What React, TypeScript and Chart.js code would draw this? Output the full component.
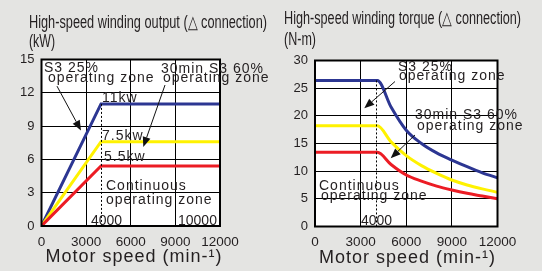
import React, { useEffect, useRef } from "react";
import { Chart, registerables } from "chart.js";
Chart.register(...registerables);

// ---------- data ----------
const speedOut = [0, 4000, 12000];
const outS3 = [0, 11, 11];
const out30 = [0, 7.6, 7.6];
const outCont = [0, 5.4, 5.4];

const speedTq = [0, 4100, 5000, 6000, 7000, 8000, 9000, 10000, 11000, 12000];
const tqS3 = [26.4, 26.4, 21.6, 17.4, 15.0, 13.3, 12.0, 10.8, 9.7, 8.8];
const tq30 = [18.2, 18.2, 15.3, 12.8, 11.0, 9.6, 8.4, 7.5, 6.8, 6.2];
const tqCont = [13.4, 13.4, 11.2, 9.3, 8.2, 7.3, 6.6, 6.0, 5.5, 5.0];

const xTickLabels = ["0", "3000", "6000", "9000", "12000"];
const outTickLabels = ["0", "3", "6", "9", "12", "15"];
const tqTickLabels = ["0", "5", "10", "15", "20", "25", "30"];

const dashSpeed = 4000;

const titleOut = "High-speed winding output (\u25B3 connection)";
const unitOut = "(kW)";
const titleTq = "High-speed winding torque (\u25B3 connection)";
const unitTq = "(N-m)";
const xTitle = "Motor speed (min-\u00B9)";

// annotation texts (anchored in data coordinates)
const notesOut = [
  { text: "S3 25%", x: 170, y: 13.9, sp: 1 },
  { text: "operating zone", x: 437, y: 12.97, sp: 1 },
  { text: "30min S3 60%", x: 8034, y: 13.8, sp: 1 },
  { text: "operating zone", x: 8168, y: 12.97, sp: 1 },
  { text: "11kw", x: 4067, y: 11.17, sp: 1 },
  { text: "7.5kw", x: 4067, y: 7.75, sp: 1 },
  { text: "5.5kw", x: 4202, y: 5.86, sp: 1 },
  { text: "Continuous", x: 4336, y: 3.24, sp: 1 },
  { text: "operating zone", x: 4336, y: 1.98, sp: 1 },
  { text: "4000", x: 3328, y: 0.09, sp: 0 },
  { text: "10000", x: 9177, y: 0.09, sp: 0 },
];
const arrowsOut = [
  { x0: 1042, y0: 12.6, x1: 2655, y1: 8.6 },
  { x0: 8303, y0: 12.7, x1: 6844, y1: 7.12 },
];
const notesTq = [
  { text: "S3 25%", x: 5457, y: 28.1, sp: 1 },
  { text: "operating zone", x: 5523, y: 26.4, sp: 1 },
  { text: "30min S3 60%", x: 6575, y: 19.4, sp: 1 },
  { text: "operating zone", x: 6707, y: 17.44, sp: 1 },
  { text: "Continuous", x: 263, y: 6.6, sp: 1 },
  { text: "operating zone", x: 394, y: 4.7, sp: 1 },
  { text: "4000", x: 3025, y: 0.27, sp: 0 },
];
const arrowsTq = [
  { x0: 5260, y0: 26.2, x1: 3240, y1: 21.36 },
  { x0: 6575, y0: 16.54, x1: 4977, y1: 12.33 },
];

const BLUE = "#2c3692";
const YELLOW = "#fff200";
const RED = "#ec1c24";
const TEXT = "#231f20";
const FONT = '"Liberation Sans", Arial, sans-serif';

type Cfg = {
  speeds: number[];
  series: number[][];
  yMax: number;
  yStep: number;
  yLabels: string[];
  area: { left: number; top: number; right: number; bottom: number };
  notes: { text: string; x: number; y: number; sp: number }[];
  arrows: { x0: number; y0: number; x1: number; y1: number }[];
  dashTop: number;
  title: { text: string; x: number; y: number; w: number };
  unit: { text: string; x: number; y: number; w: number };
  xTitleX: number;
  xTitleY: number;
  smooth: boolean;
};

function makeDecor(cfg: Cfg) {
  return {
    id: "decor",
    beforeDraw(chart: any) {
      const { ctx, chartArea: a } = chart;
      ctx.save();
      ctx.fillStyle = "#ffffff";
      ctx.fillRect(a.left, a.top, a.right - a.left, a.bottom - a.top);
      ctx.restore();
    },
    afterDatasetsDraw(chart: any) {
      const { ctx, chartArea: a, scales } = chart;
      const xs = scales.x;
      const ys = scales.y;
      ctx.save();
      // dashed 4000 line
      ctx.strokeStyle = "#000";
      ctx.lineWidth = 1;
      ctx.setLineDash([2, 2]);
      const dx = Math.round(xs.getPixelForValue(dashSpeed)) + 0.5;
      ctx.beginPath();
      ctx.moveTo(dx, ys.getPixelForValue(cfg.dashTop));
      ctx.lineTo(dx, ys.getPixelForValue(0));
      ctx.stroke();
      ctx.setLineDash([]);
      // frame
      ctx.lineWidth = 2;
      ctx.strokeRect(a.left, a.top, a.right - a.left, a.bottom - a.top);
      ctx.restore();
    },
    afterDraw(chart: any) {
      const { ctx, scales } = chart;
      const xs = scales.x;
      const ys = scales.y;
      ctx.save();
      ctx.fillStyle = TEXT;
      ctx.textBaseline = "alphabetic";
      ctx.textAlign = "left";
      for (const n of cfg.notes) {
        ctx.font = `14px ${FONT}`;
        (ctx as any).letterSpacing = `${n.sp}px`;
        ctx.fillText(n.text, xs.getPixelForValue(n.x), ys.getPixelForValue(n.y));
      }
      (ctx as any).letterSpacing = "0px";
      // arrows
      ctx.strokeStyle = "#111";
      ctx.fillStyle = "#111";
      ctx.lineWidth = 1;
      for (const ar of cfg.arrows) {
        const x0 = xs.getPixelForValue(ar.x0);
        const y0 = ys.getPixelForValue(ar.y0);
        const x1 = xs.getPixelForValue(ar.x1);
        const y1 = ys.getPixelForValue(ar.y1);
        const ang = Math.atan2(y1 - y0, x1 - x0);
        const L = 10;
        const W = 4;
        const bx = x1 - L * Math.cos(ang);
        const by = y1 - L * Math.sin(ang);
        ctx.beginPath();
        ctx.moveTo(x0, y0);
        ctx.lineTo(bx, by);
        ctx.stroke();
        ctx.beginPath();
        ctx.moveTo(x1, y1);
        ctx.lineTo(bx + W * Math.sin(ang), by - W * Math.cos(ang));
        ctx.lineTo(bx - W * Math.sin(ang), by + W * Math.cos(ang));
        ctx.closePath();
        ctx.fill();
      }
      // titles (condensed)
      ctx.fillStyle = TEXT;
      for (const t of [cfg.title, cfg.unit]) {
        ctx.font = `18px ${FONT}`;
        const m = ctx.measureText(t.text).width;
        ctx.save();
        ctx.translate(t.x, t.y);
        ctx.scale(t.w / m, 1);
        ctx.fillText(t.text, 0, 0);
        ctx.restore();
      }
      // axis title
      ctx.font = `18px ${FONT}`;
      (ctx as any).letterSpacing = "1px";
      ctx.textAlign = "center";
      ctx.fillText(xTitle, cfg.xTitleX, cfg.xTitleY);
      ctx.restore();
    },
  };
}

function buildChart(canvas: HTMLCanvasElement, cfg: Cfg) {
  const colors = [BLUE, YELLOW, RED];
  const datasets = cfg.series.map((s, i) => ({
    data: s.map((v, j) => ({ x: cfg.speeds[j], y: v })),
    borderColor: colors[i],
    borderWidth: 3,
    pointRadius: 0,
    fill: false,
    cubicInterpolationMode: cfg.smooth ? ("monotone" as const) : ("default" as const),
    tension: 0,
  }));
  const H = 271;
  const W = 271;
  return new Chart(canvas, {
    type: "line",
    data: { datasets: datasets.reverse() },
    options: {
      responsive: false,
      animation: false,
      devicePixelRatio: 1,
      layout: {
        padding: { left: 0, top: cfg.area.top, right: W - cfg.area.right, bottom: 0 },
      },
      plugins: { legend: { display: false }, title: { display: false }, tooltip: { enabled: false } },
      scales: {
        x: {
          type: "linear",
          min: 0,
          max: 12000,
          afterFit: (s: any) => {
            s.height = H - cfg.area.bottom;
          },
          afterBuildTicks: (s: any) => {
            s.ticks = xTickLabels.map((l) => ({ value: Number(l) }));
          },
          ticks: {
            autoSkip: false,
            maxRotation: 0,
            padding: 8,
            color: TEXT,
            font: { family: FONT, size: 13.5 },
            callback: (v: any) => String(v),
          },
          grid: { color: "#000", lineWidth: 1, drawTicks: false },
          border: { display: false },
        },
        y: {
          type: "linear",
          min: 0,
          max: cfg.yMax,
          afterFit: (s: any) => {
            s.width = cfg.area.left;
          },
          afterBuildTicks: (s: any) => {
            s.ticks = cfg.yLabels.map((l) => ({ value: Number(l) }));
          },
          ticks: {
            padding: 7,
            color: TEXT,
            font: { family: FONT, size: 13 },
            callback: (v: any) => String(v),
          },
          grid: { color: "#000", lineWidth: 1, drawTicks: false },
          border: { display: false },
        },
      },
    },
    plugins: [makeDecor(cfg)],
  });
}

const cfgOut: Cfg = {
  speeds: speedOut,
  series: [outS3, out30, outCont],
  yMax: 15,
  yStep: 3,
  yLabels: outTickLabels,
  area: { left: 41.5, top: 59.5, right: 220, bottom: 226 },
  notes: notesOut,
  arrows: arrowsOut,
  dashTop: outS3[1],
  title: { text: titleOut, x: 29, y: 28, w: 238 },
  unit: { text: unitOut, x: 29, y: 47, w: 26 },
  xTitleX: 134,
  xTitleY: 262,
  smooth: false,
};

const cfgTq: Cfg = {
  speeds: speedTq,
  series: [tqS3, tq30, tqCont],
  yMax: 30,
  yStep: 5,
  yLabels: tqTickLabels,
  area: { left: 44, top: 60.5, right: 226.5, bottom: 226.5 },
  notes: notesTq,
  arrows: arrowsTq,
  dashTop: tqS3[0],
  title: { text: titleTq, x: 13, y: 24, w: 237 },
  unit: { text: unitTq, x: 13, y: 44.5, w: 32 },
  xTitleX: 136.5,
  xTitleY: 263,
  smooth: true,
};

function Panel({ cfg }: { cfg: Cfg }) {
  const ref = useRef<HTMLCanvasElement | null>(null);
  useEffect(() => {
    if (!ref.current) return;
    const c = buildChart(ref.current, cfg);
    return () => c.destroy();
  }, [cfg]);
  return <canvas ref={ref} width={271} height={271} style={{ display: "block", width: 271, height: 271 }} />;
}

export default function App() {
  return (
    <div
      style={{
        position: "fixed",
        left: 0,
        top: 0,
        width: 542,
        height: 271,
        background: "#e4e4e2",
        display: "flex",
        overflow: "hidden",
      }}
    >
      <Panel cfg={cfgOut} />
      <Panel cfg={cfgTq} />
    </div>
  );
}
